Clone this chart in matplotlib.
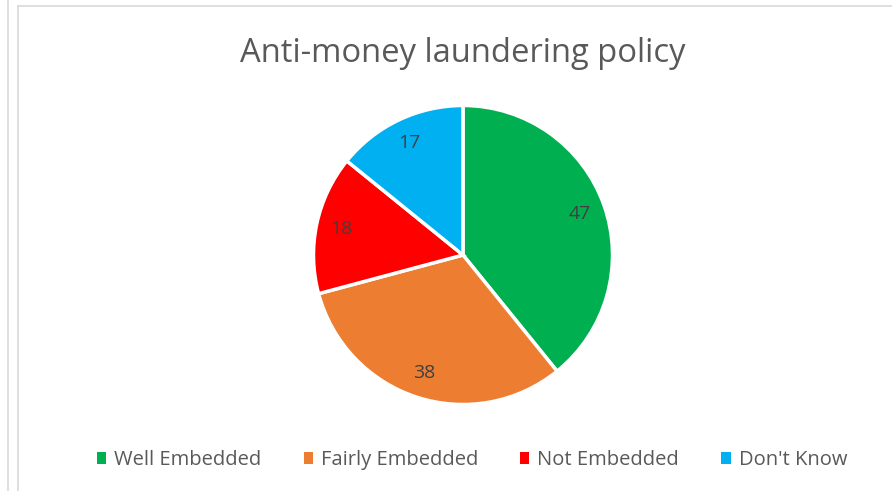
import matplotlib
matplotlib.use("Agg")
import matplotlib.pyplot as plt
from matplotlib.lines import Line2D
from matplotlib.patches import Patch

categories = ["Well Embedded", "Fairly Embedded", "Not Embedded", "Don't Know"]
values = [47, 38, 18, 17]
colors = ["#00B050", "#ED7D31", "#FF0000", "#00B0F0"]
title = "Anti-money laundering policy"

plt.rcParams['font.family'] = ['Open Sans', 'DejaVu Sans']

W, H = 892, 491
fig = plt.figure(figsize=(W / 100, H / 100), dpi=100)
fig.patch.set_facecolor("white")

# frame decoration lines
fig.add_artist(Line2D([8 / W, 8 / W], [0, 1], color="#d9d9d9", lw=1.2))
fig.add_artist(Line2D([18 / W, 18 / W], [0, 1 - 6 / H], color="#d9d9d9", lw=1.2))
fig.add_artist(Line2D([18 / W, 1], [1 - 6 / H, 1 - 6 / H], color="#d9d9d9", lw=1.2))

cx, cy, r = 463, 255, 151
ax = fig.add_axes([(cx - r) / W, (H - cy - r) / H, 2 * r / W, 2 * r / H])
wedges, texts = ax.pie(values, colors=colors, startangle=90, counterclock=False,
                       labels=[str(v) for v in values], labeldistance=0.83,
                       wedgeprops=dict(edgecolor="white", linewidth=2.5))
for t in texts:
    t.set_color("#404040")
    t.set_fontsize(14)
    t.set_ha("center")
    t.set_va("center")
ax.set_xlim(-1.01, 1.01)
ax.set_ylim(-1.01, 1.01)
ax.set_aspect("equal")
ax.axis("off")

fig.text(463 / W, 1 - 54 / H, title, ha="center", va="center", fontsize=23.6, color="#595959")

handles = [Patch(facecolor=c, edgecolor="none") for c in colors]
fig.legend(handles, categories, loc="center", bbox_to_anchor=(472 / W, 1 - 460 / H),
           ncol=4, frameon=False, fontsize=14.5, labelcolor="#595959",
           handlelength=0.45, handleheight=0.55, handletextpad=0.4, columnspacing=2.1)

fig.savefig("out.png", dpi=100, facecolor="white")
